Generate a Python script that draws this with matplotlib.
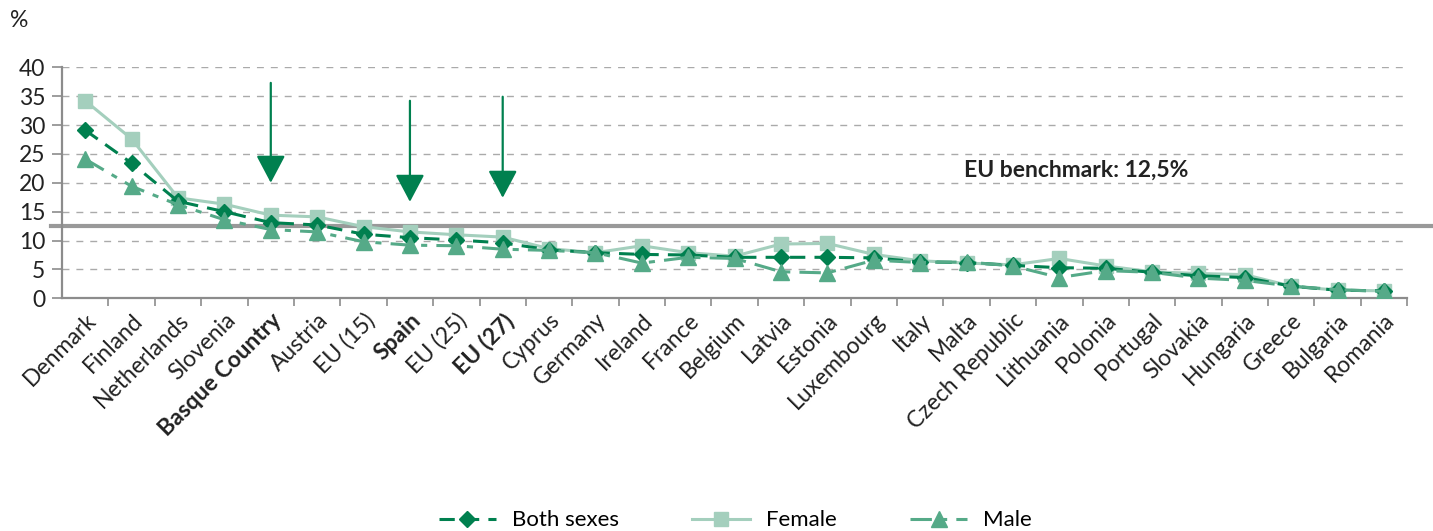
import matplotlib
matplotlib.use('Agg')
import matplotlib.pyplot as plt
import numpy as np

# === DATA ===
countries = ['Denmark', 'Finland', 'Netherlands', 'Slovenia', 'Basque Country', 'Austria',
             'EU (15)', 'Spain', 'EU (25)', 'EU (27)', 'Cyprus', 'Germany', 'Ireland',
             'France', 'Belgium', 'Latvia', 'Estonia', 'Luxembourg', 'Italy', 'Malta',
             'Czech Republic', 'Lithuania', 'Polonia', 'Portugal', 'Slovakia', 'Hungaria',
             'Greece', 'Bulgaria', 'Romania']
both = [29.1, 23.4, 16.8, 15.0, 13.1, 12.7, 11.1, 10.5, 10.1, 9.6, 8.4, 7.9, 7.6,
        7.5, 7.1, 7.1, 7.1, 7.0, 6.3, 6.2, 5.7, 5.3, 5.2, 4.5, 3.9, 3.6, 2.1, 1.4, 1.3]
female = [34.2, 27.6, 17.4, 16.3, 14.4, 14.1, 12.4, 11.5, 11.0, 10.6, 8.6, 7.9, 9.1,
          7.9, 7.3, 9.4, 9.5, 7.6, 6.5, 6.1, 5.8, 6.9, 5.6, 4.6, 4.3, 4.1, 2.1, 1.4, 1.3]
male = [24.1, 19.4, 16.2, 13.6, 11.9, 11.5, 9.8, 9.2, 9.1, 8.5, 8.3, 7.9, 6.1,
        7.1, 6.9, 4.6, 4.4, 6.6, 6.2, 6.3, 5.6, 3.6, 4.8, 4.5, 3.5, 3.1, 2.1, 1.5, 1.2]
bold_labels = ['Basque Country', 'Spain', 'EU (27)']
# arrows: (category, top value, tip value)
arrows = [('Basque Country', 37.3, 20.0), ('Spain', 34.2, 16.7), ('EU (27)', 34.9, 17.4)]
benchmark = 12.5

# === STYLE ===
plt.rcParams['font.family'] = ['Lato', 'DejaVu Sans']
c_both = '#00804f'
c_female = '#a4cfbd'
c_male = '#55aa88'
c_axis = '#8c8c8c'
c_text = '#222222'

fig = plt.figure(figsize=(14.33, 5.31), dpi=100)
ax = fig.add_axes([0.0433, 0.4382, 0.9387, 0.4351])

x = np.arange(len(countries))

ax.plot(x, female, color=c_female, lw=2.2, marker='s', ms=10, mec=c_female, zorder=3,
        label='Female')
ax.plot(x, both, color=c_both, lw=2.2, ls=(0, (5, 3)), marker='D', ms=8, zorder=4,
        label='Both sexes')
ax.plot(x, male, color=c_male, lw=2.2, ls=(0, (7, 3, 2, 3)), marker='^', ms=11, zorder=5,
        label='Male')

# benchmark line, extends a bit beyond the axes
ax.axhline(benchmark, xmin=-0.008, xmax=1.02, color='#999999', lw=3, clip_on=False, zorder=2)
ax.text(18.95, 22.2, 'EU benchmark: 12,5%', fontsize=16.5, fontweight='bold',
        color=c_text, ha='left', va='center')

for name, top, tip in arrows:
    i = countries.index(name)
    ax.annotate('', xy=(i, tip), xytext=(i, top),
                arrowprops=dict(arrowstyle='-|>,head_length=1.7,head_width=0.9',
                                lw=1.6, color=c_both, shrinkA=0, shrinkB=0))

# axes
ax.set_xlim(-0.5, len(countries) - 0.5)
ax.set_ylim(0, 40)
ax.set_yticks(range(0, 41, 5))
ax.yaxis.grid(True, ls=(0, (5, 5)), color='#aaaaaa', lw=1)
ax.set_axisbelow(True)
for s in ['top', 'right']:
    ax.spines[s].set_visible(False)
for s in ['left', 'bottom']:
    ax.spines[s].set_color(c_axis)
    ax.spines[s].set_linewidth(1.6)

ax.set_xticks(x)
ax.set_xticks(np.arange(0.5, len(countries) - 0.4, 1), minor=True)
ax.tick_params(axis='x', which='major', length=0, pad=8)
ax.tick_params(axis='x', which='minor', length=6, width=1.2, color=c_axis)
ax.tick_params(axis='y', length=7, width=1.2, color=c_axis, labelsize=16.5, pad=5)
ax.set_xticklabels(countries, rotation=45, ha='right', va='top', rotation_mode='anchor',
                   fontsize=16.5, color=c_text)
for lbl in ax.get_xticklabels():
    if lbl.get_text() in bold_labels:
        lbl.set_fontweight('bold')
for lbl in ax.get_yticklabels():
    lbl.set_color(c_text)

fig.text(0.007, 0.962, '%', fontsize=16.5, color=c_text, ha='left', va='center')

h, l = ax.get_legend_handles_labels()
order = [1, 0, 2]
fig.legend([h[i] for i in order], [l[i] for i in order], loc='center',
           bbox_to_anchor=(0.513, 0.02), ncol=3, frameon=False, fontsize=16,
           handlelength=2.6, columnspacing=3.3, handletextpad=0.7)

fig.savefig('out.png', dpi=100)
